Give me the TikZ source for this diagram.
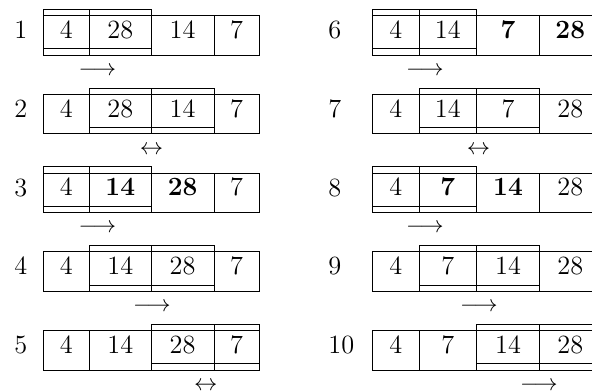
\documentclass[tikz,border=0pt]{standalone}
\newcommand\pxu{0.429pt}
\tikzset{
 cell/.style={draw, line width=0.4pt, inner sep=0pt, outer sep=0pt,
   font=\fontsize{11.3}{13}\selectfont,
   text height=9.78pt, text depth=7.17pt, minimum height=16.95pt, anchor=north west},
 liftbox/.style={draw, line width=0.4pt},
 rowno/.style={anchor=base west, inner sep=0pt, font=\fontsize{11.3}{13}\selectfont},
 arr/.style={inner sep=0pt}
}
\newcommand\Lrow[6]{%
 \node[cell, minimum width=45.5*\pxu] (#1a) at (43.7,#2) {#3};
 \node[cell, minimum width=62.1*\pxu] (#1b) at (#1a.north east) {#4};
 \node[cell, minimum width=62.7*\pxu] (#1c) at (#1b.north east) {#5};
 \node[cell, minimum width=45.3*\pxu] (#1d) at (#1c.north east) {#6};
}
\newcommand\Rrow[6]{%
 \node[cell, minimum width=46.2*\pxu] (#1a) at (372.8,#2) {#3};
 \node[cell, minimum width=57.7*\pxu] (#1b) at (#1a.north east) {#4};
 \node[cell, minimum width=62.6*\pxu] (#1c) at (#1b.north east) {#5};
 \node[cell, minimum width=62*\pxu] (#1d) at (#1c.north east) {#6};
}
\newcommand\liftcell[1]{\draw[liftbox] ([yshift=2.7pt]#1.south west) rectangle ([yshift=2.7pt]#1.north east);}
\begin{document}
\begin{tikzpicture}[x=0.429pt, y=-0.429pt]
\useasboundingbox (0,0) rectangle (592,392);
\clip (0,0) rectangle (592,392);
% left column
\Lrow{p}{15.7}{4}{28}{14}{7}
\Lrow{q}{94.45}{4}{28}{14}{7}
\Lrow{r}{173.2}{4}{\textbf{14}}{\textbf{28}}{7}
\Lrow{s}{251.95}{4}{14}{28}{7}
\Lrow{t}{330.7}{4}{14}{28}{7}
% right column
\Rrow{u}{15.7}{4}{14}{\textbf{7}}{\textbf{28}}
\Rrow{v}{94.45}{4}{14}{7}{28}
\Rrow{w}{173.2}{4}{\textbf{7}}{\textbf{14}}{28}
\Rrow{x}{251.95}{4}{7}{14}{28}
\Rrow{y}{330.7}{4}{7}{14}{28}
% lifted (compared) cells
\liftcell{pa}\liftcell{pb}
\liftcell{qb}\liftcell{qc}
\liftcell{ra}\liftcell{rb}
\liftcell{sb}\liftcell{sc}
\liftcell{tc}\liftcell{td}
\liftcell{ua}\liftcell{ub}
\liftcell{vb}\liftcell{vc}
\liftcell{wa}\liftcell{wb}
\liftcell{xb}\liftcell{xc}
\liftcell{yc}\liftcell{yd}
% row numbers
\node[rowno] (n1) at (13.8,38.5) {1};
\node[rowno] (n2) at (13.8,117.25) {2};
\node[rowno] (n3) at (13.8,196) {3};
\node[rowno] (n4) at (13.8,274.75) {4};
\node[rowno] (n5) at (13.8,353.5) {5};
\node[rowno] (n6) at (328,38.5) {6};
\node[rowno] (n7) at (328,117.25) {7};
\node[rowno] (n8) at (328,196) {8};
\node[rowno] (n9) at (328,274.75) {9};
\node[rowno] (n10) at (328,353.5) {10};
% arrows
\node[arr] (a1) at (97.5,71.2) {$\longrightarrow$};
\node[arr] (a2) at (151.5,149.95) {$\leftrightarrow$};
\node[arr] (a3) at (97.5,228.7) {$\longrightarrow$};
\node[arr] (a4) at (152,307.45) {$\longrightarrow$};
\node[arr] (a5) at (205.8,386.2) {$\leftrightarrow$};
\node[arr] (a6) at (425,71.2) {$\longrightarrow$};
\node[arr] (a7) at (478.5,149.95) {$\leftrightarrow$};
\node[arr] (a8) at (425,228.7) {$\longrightarrow$};
\node[arr] (a9) at (479,307.45) {$\longrightarrow$};
\node[arr] (a10) at (539,386.2) {$\longrightarrow$};
\end{tikzpicture}
\end{document}
